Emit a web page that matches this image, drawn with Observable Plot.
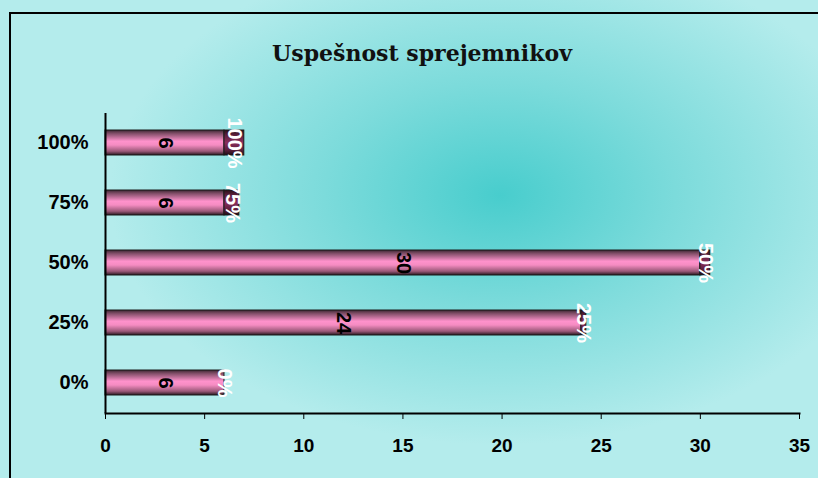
<!DOCTYPE html>
<html>
<head>
<meta charset="utf-8">
<script src="https://cdn.jsdelivr.net/npm/d3@7"></script>
<script src="https://cdn.jsdelivr.net/npm/@observablehq/plot@0.6"></script>
<style>
  html, body { margin: 0; padding: 0; }
  body {
    width: 818px; height: 478px; overflow: hidden; position: relative;
    background: radial-gradient(ellipse 390px 250px at 500px 195px, #48cdcd 0%, #7cdbdb 45%, #b4ecec 100%);
  }
  #frame {
    position: absolute; left: 9px; top: 12px; width: 809px; height: 466px;
    border-left: 2px solid #000; border-top: 2px solid #000;
    box-sizing: border-box;
  }
  #title {
    position: absolute; left: 0; width: 844px; top: 40px; text-align: center;
    font-family: "DejaVu Serif", "Liberation Serif", serif; font-weight: bold; font-size: 22px; color: #111;
  }
  #chart { position: absolute; left: 0; top: 0; }
</style>
</head>
<body>
<div id="frame"></div>
<div id="title">Uspešnost sprejemnikov</div>
<div id="chart"></div>
<script>
const categories = ["0%", "25%", "50%", "75%", "100%"];
const counts = [6, 24, 30, 6, 6];
const shares = [0, 0.25, 0.5, 0.75, 1];
const xTicks = [0, 5, 10, 15, 20, 25, 30, 35];

const rows = [];
categories.forEach((c, i) => {
  rows.push({cat: c, part: "count", value: counts[i], label: String(counts[i])});
  rows.push({cat: c, part: "share", value: shares[i], label: Math.round(shares[i] * 100) + "%"});
});

const plot = Plot.plot({
  width: 818,
  height: 478,
  marginLeft: 105,
  marginRight: 19,
  marginTop: 113,
  marginBottom: 65,
  style: {background: "transparent", fontFamily: "Liberation Sans, Arial, sans-serif"},
  x: {domain: [0, 35], ticks: xTicks},
  y: {domain: categories.slice().reverse(), paddingInner: 0.58, paddingOuter: 0.29},
  marks: [
    Plot.barX(rows, Plot.stackX({
      y: "cat", x: "value", order: null,
      fill: d => d.part === "count" ? "url(#pinkGrad)" : "url(#darkGrad)",
      stroke: "#1a1a1a", strokeWidth: 1
    })),
    Plot.text(rows, Plot.stackX({
      y: "cat", x: "value", order: null, text: "label", rotate: 90,
      fill: d => d.part === "count" ? "#000" : "#fff",
      fontWeight: "bold", fontSize: 20
    })),
    Plot.ruleX([0], {stroke: "#000", strokeWidth: 2}),
    Plot.frame({anchor: "bottom", stroke: "#000", strokeWidth: 2}),
    Plot.axisX({ticks: xTicks, tickSize: 6, tickPadding: 19, fontSize: 19, fontWeight: "bold", color: "#000", label: null}),
    Plot.axisY({tickSize: 0, tickPadding: 17, fontSize: 20, fontWeight: "bold", color: "#000", label: null})
  ]
});

const svg = d3.select(plot);
const defs = svg.insert("defs", ":first-child");
const pg = defs.append("linearGradient").attr("id", "pinkGrad").attr("x1", 0).attr("y1", 0).attr("x2", 0).attr("y2", 1);
[[0, "#3a2430"], [0.12, "#7a4a62"], [0.45, "#ff92cc"], [0.6, "#f58cc2"], [0.85, "#9a5878"], [1, "#2a1820"]]
  .forEach(([o, c]) => pg.append("stop").attr("offset", o).attr("stop-color", c));
const dg = defs.append("linearGradient").attr("id", "darkGrad").attr("x1", 0).attr("y1", 0).attr("x2", 0).attr("y2", 1);
[[0, "#2a1018"], [0.2, "#5a1f3c"], [0.5, "#8a2e5c"], [0.8, "#5a1f3c"], [1, "#200c14"]]
  .forEach(([o, c]) => dg.append("stop").attr("offset", o).attr("stop-color", c));

document.getElementById("chart").appendChild(plot);
</script>
</body>
</html>
